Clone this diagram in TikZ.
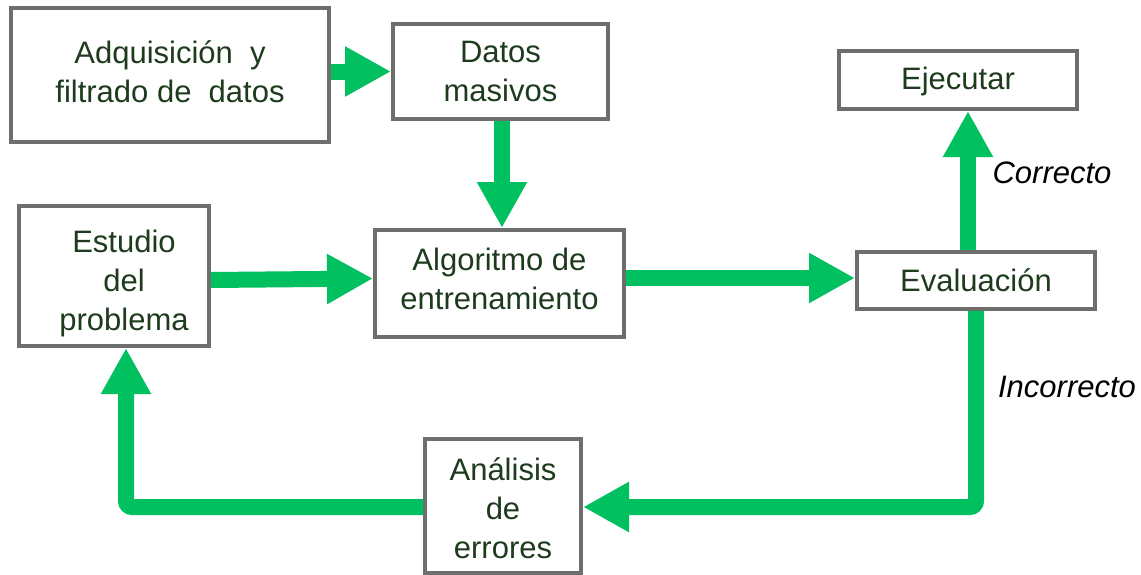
\documentclass[tikz,border=0pt]{standalone}
\usepackage{fontspec}
\setmainfont{Liberation Sans}
\usetikzlibrary{arrows.meta}
\definecolor{boxgray}{HTML}{6E6E6E}
\definecolor{textgreen}{HTML}{1E3B1E}
\definecolor{flowgreen}{HTML}{00C060}
\tikzset{
  stepbox/.style={draw=boxgray, line width=4pt, fill=white, inner sep=0pt,
    align=center, text=textgreen, font=\fontsize{31}{39}\selectfont},
  flow/.style={draw=flowgreen, line width=16pt, -{Triangle[length=46pt,width=47pt]}},
  lbl/.style={font=\fontsize{31}{39}\selectfont\itshape, text=black, inner sep=0pt}
}
\begin{document}
\begin{tikzpicture}[x=1pt,y=-1pt]
\useasboundingbox[fill=white] (0,0) rectangle (1141,574);
\node[stepbox, minimum width=318pt, minimum height=134pt] (adq) at (170,75) {Adquisición\ \ y\\filtrado de\ \ datos\rule[-6pt]{0pt}{6pt}};
\node[stepbox, minimum width=215pt, minimum height=95pt] (datos) at (500.5,71.5) {Datos\\masivos};
\node[stepbox, minimum width=238pt, minimum height=58pt] (ejec) at (958,80) {\rule{0pt}{26pt}Ejecutar};
\node[stepbox, minimum width=190pt, minimum height=140pt] (estudio) at (114,276) {\hspace*{20pt}\rule{0pt}{36.6pt}Estudio\\\hspace*{20pt}del\\\hspace*{20pt}problema};
\node[stepbox, minimum width=249pt, minimum height=107pt] (algo) at (499.5,283.5) {Algoritmo de\\entrenamiento\rule[-10pt]{0pt}{10pt}};
\node[stepbox, minimum width=238pt, minimum height=57pt] (eval) at (976,280.5) {Evaluación};
\node[stepbox, minimum width=156pt, minimum height=134pt] (anal) at (503,506) {\rule{0pt}{28pt}Análisis\\de\\errores};

\draw[flow] (adq.east |- datos.west) -- (datos.west);
\draw[flow] ([xshift=1.5pt]datos.south) -- ([xshift=1.5pt]datos.south |- algo.north);
\draw[flow] ([yshift=-4pt]estudio.east) -- ([yshift=5pt]algo.west);
\draw[flow] ([yshift=5.5pt]algo.east) -- ([yshift=2.5pt]eval.west);
\draw[flow] ([xshift=-8pt]eval.north) -- ([xshift=-8pt]eval.north |- ejec.south);
\draw[flow, rounded corners=6pt] (eval.south) |- ([yshift=-1pt]anal.east);
\draw[flow, rounded corners=6pt] ([yshift=-1pt]anal.west) -| ([xshift=12pt]estudio.south);

\node[lbl] (correcto) at (1052,173) {Correcto};
\node[lbl] (incorrecto) at (1067,387) {Incorrecto};
\end{tikzpicture}
\end{document}
